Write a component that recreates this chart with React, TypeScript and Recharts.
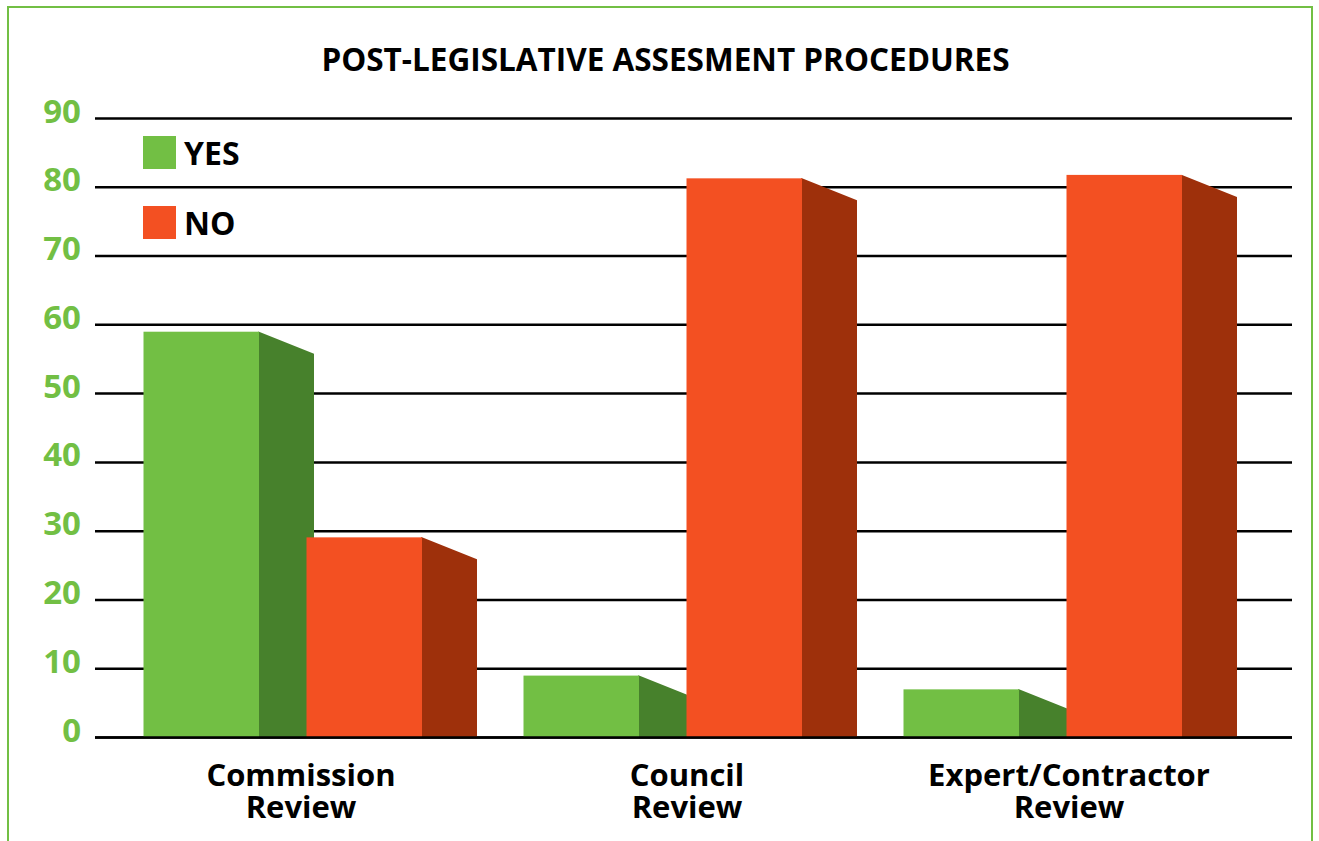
import {BarChart, Bar, XAxis, YAxis, CartesianGrid, Legend, ReferenceLine} from "recharts";

const categories = ["Commission Review", "Council Review", "Expert/Contractor Review"]
const yesValues = [59, 9, 7]
const noValues = [29.1, 81.3, 81.8]
const yTicks = [0, 10, 20, 30, 40, 50, 60, 70, 80, 90]

const data = categories.map((name, i) => ({name, yes: yesValues[i], no: noValues[i]}))

const FONT = "'Open Sans', sans-serif"
const GREEN = "#72BF44"
const GREEN_SIDE = "#47812C"
const ORANGE = "#F35022"
const ORANGE_SIDE = "#9E300B"
const SIDE_W = 55
const SIDE_DROP = 22
// labels are not centred under the bar pairs in the original
const LABEL_NUDGE = [18.5, 24.5, 26.5]

const Bar3D = ({x, y, width, height, fill, side}: any) => (
    <g>
        <polygon
            points={`${x + width - 1},${y} ${x + width},${y} ${x + width + SIDE_W},${y + SIDE_DROP} ${x + width + SIDE_W},${y + height} ${x + width - 1},${y + height}`}
            fill={side}
        />
        <rect x={x} y={y} width={width} height={height} fill={fill}/>
    </g>
)

const YTick = ({x, y, payload}: any) => (
    <text x={x} y={y} dy={4} textAnchor="end" fill={GREEN} fontFamily={FONT} fontWeight={700} fontSize={33}>
        {payload.value}
    </text>
)

const XTick = ({x, y, payload, index}: any) => {
    const words = payload.value.split(" ")
    return (
        <text textAnchor="middle" fill="#000" fontFamily={FONT} fontWeight={700} fontSize={31}>
            <tspan x={x + LABEL_NUDGE[index]} y={y + 40}>{words[0]}</tspan>
            <tspan x={x + LABEL_NUDGE[index]} y={y + 72}>{words[1]}</tspan>
        </text>
    )
}

const LegendBox = ({payload}: any) => (
    <div>
        {payload.map((p: any) => (
            <div key={p.value} style={{display: "flex", alignItems: "center", height: 33, marginBottom: 37}}>
                <div style={{width: 33, height: 33, background: p.color, marginRight: 8}}/>
                <span style={{fontFamily: FONT, fontWeight: 700, fontSize: 32, color: "#000"}}>{p.value}</span>
            </div>
        ))}
    </div>
)

const App = () => {
    return (
        <div style={{position: "absolute", left: 0, top: 0, width: 1319, height: 841, overflow: "hidden", background: "#fff"}}>
            <div style={{
                position: "absolute", left: 7, top: 6, width: 1302, height: 840,
                border: `2px solid ${GREEN}`
            }}/>
            <div style={{
                position: "absolute", left: 0, top: 37, width: 1331, textAlign: "center",
                fontFamily: FONT, fontWeight: 700, fontSize: 31.5, color: "#000"
            }}>
                POST-LEGISLATIVE ASSESMENT PROCEDURES
            </div>
            <BarChart
                width={1319}
                height={841}
                data={data}
                barSize={115.5}
                barGap={47.5}
                margin={{top: 118.5, right: 27, bottom: 73.5, left: 0}}
                style={{position: "absolute", left: 0, top: 0}}
            >
                <CartesianGrid vertical={false} stroke="#000" strokeWidth={2.5} syncWithTicks/>
                <XAxis
                    dataKey="name"
                    axisLine={false}
                    tickLine={false}
                    interval={0}
                    padding={{left: -2.5, right: 59.5}}
                    tick={<XTick/>}
                />
                <YAxis
                    width={95}
                    domain={[0, 90]}
                    ticks={yTicks}
                    axisLine={false}
                    tickLine={false}
                    tickMargin={8}
                    tick={<YTick/>}
                />
                <Legend
                    layout="vertical"
                    align="center"
                    verticalAlign="middle"
                    itemSorter={null}
                    wrapperStyle={{left: 143, top: 136, width: 200}}
                    content={<LegendBox/>}
                />
                <Bar
                    dataKey="yes"
                    name="YES"
                    fill={GREEN}
                    isAnimationActive={false}
                    shape={(p: any) => <Bar3D {...p} fill={GREEN} side={GREEN_SIDE}/>}
                />
                <Bar
                    dataKey="no"
                    name="NO"
                    fill={ORANGE}
                    isAnimationActive={false}
                    shape={(p: any) => <Bar3D {...p} fill={ORANGE} side={ORANGE_SIDE}/>}
                />
                <ReferenceLine y={0} stroke="#000" strokeWidth={2.5} ifOverflow="visible"/>
            </BarChart>
        </div>
    )
}

export default App
